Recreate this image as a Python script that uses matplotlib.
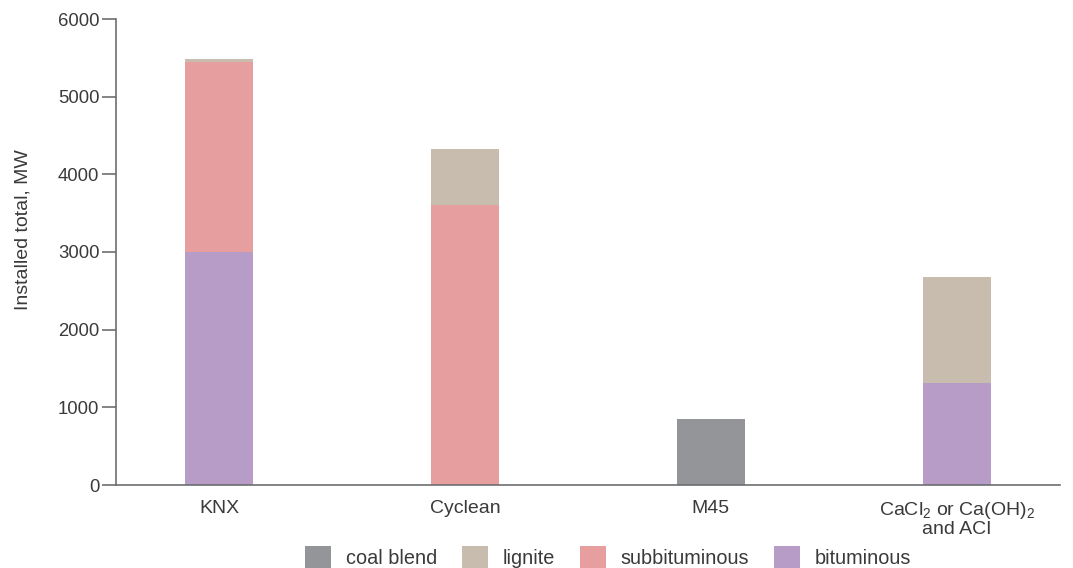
import matplotlib
matplotlib.use("Agg")
import matplotlib.pyplot as plt
import numpy as np

plt.rcParams['font.family'] = ['Liberation Sans', 'DejaVu Sans']
plt.rcParams['mathtext.default'] = 'regular'

categories = ["KNX", "Cyclean", "M45", "CaCl$_2$ or Ca(OH)$_2$\nand ACI"]
bituminous = [3000, 0, 0, 1310]
subbituminous = [2440, 3600, 0, 0]
lignite = [50, 720, 0, 1370]
coal_blend = [0, 0, 850, 0]

colors = {
    "coal blend": "#939598",
    "lignite": "#c8bcae",
    "subbituminous": "#e69e9e",
    "bituminous": "#b89cc8",
}
axis_color = "#6d6e71"
text_color = "#3a3a3a"
fs = 14

fig = plt.figure(figsize=(10.73, 5.68), dpi=100)
ax = fig.add_axes([116 / 1073, 83 / 568, (1060 - 116) / 1073, (485 - 19) / 568])

x = np.arange(len(categories))
w = 0.277
bottom = np.zeros(len(categories))
handles = {}
for name, vals in [("coal blend", coal_blend), ("bituminous", bituminous),
                   ("subbituminous", subbituminous), ("lignite", lignite)]:
    vals = np.array(vals, dtype=float)
    handles[name] = ax.bar(x, vals, w, bottom=bottom, color=colors[name], label=name)
    bottom += vals

ax.set_xlim(-0.42, 3.42)
ax.set_ylim(0, 6000)
ax.set_yticks(range(0, 6001, 1000))
ax.set_xticks(x)
ax.set_xticklabels(categories, fontsize=fs, color=text_color, linespacing=1.0)
ax.tick_params(axis='x', length=0, pad=11)
ax.tick_params(axis='y', length=10, width=1.2, color=axis_color, labelsize=13.3,
               labelcolor=text_color, pad=2)
ax.set_ylabel("Installed total, MW", fontsize=fs, color=text_color)
ax.yaxis.set_label_coords(-0.09, 0.547)

for side in ["top", "right"]:
    ax.spines[side].set_visible(False)
for side in ["left", "bottom"]:
    ax.spines[side].set_color(axis_color)
    ax.spines[side].set_linewidth(1.2)

order = ["coal blend", "lignite", "subbituminous", "bituminous"]
leg = fig.legend([handles[n] for n in order], order, loc="center",
                 bbox_to_anchor=(608 / 1073, 1 - 557 / 568), ncol=4, frameon=False,
                 fontsize=14.3, handlelength=1.3, handleheight=1.3, columnspacing=1.25,
                 handletextpad=0.75)
for t in leg.get_texts():
    t.set_color(text_color)

fig.savefig("out.png", dpi=100)
